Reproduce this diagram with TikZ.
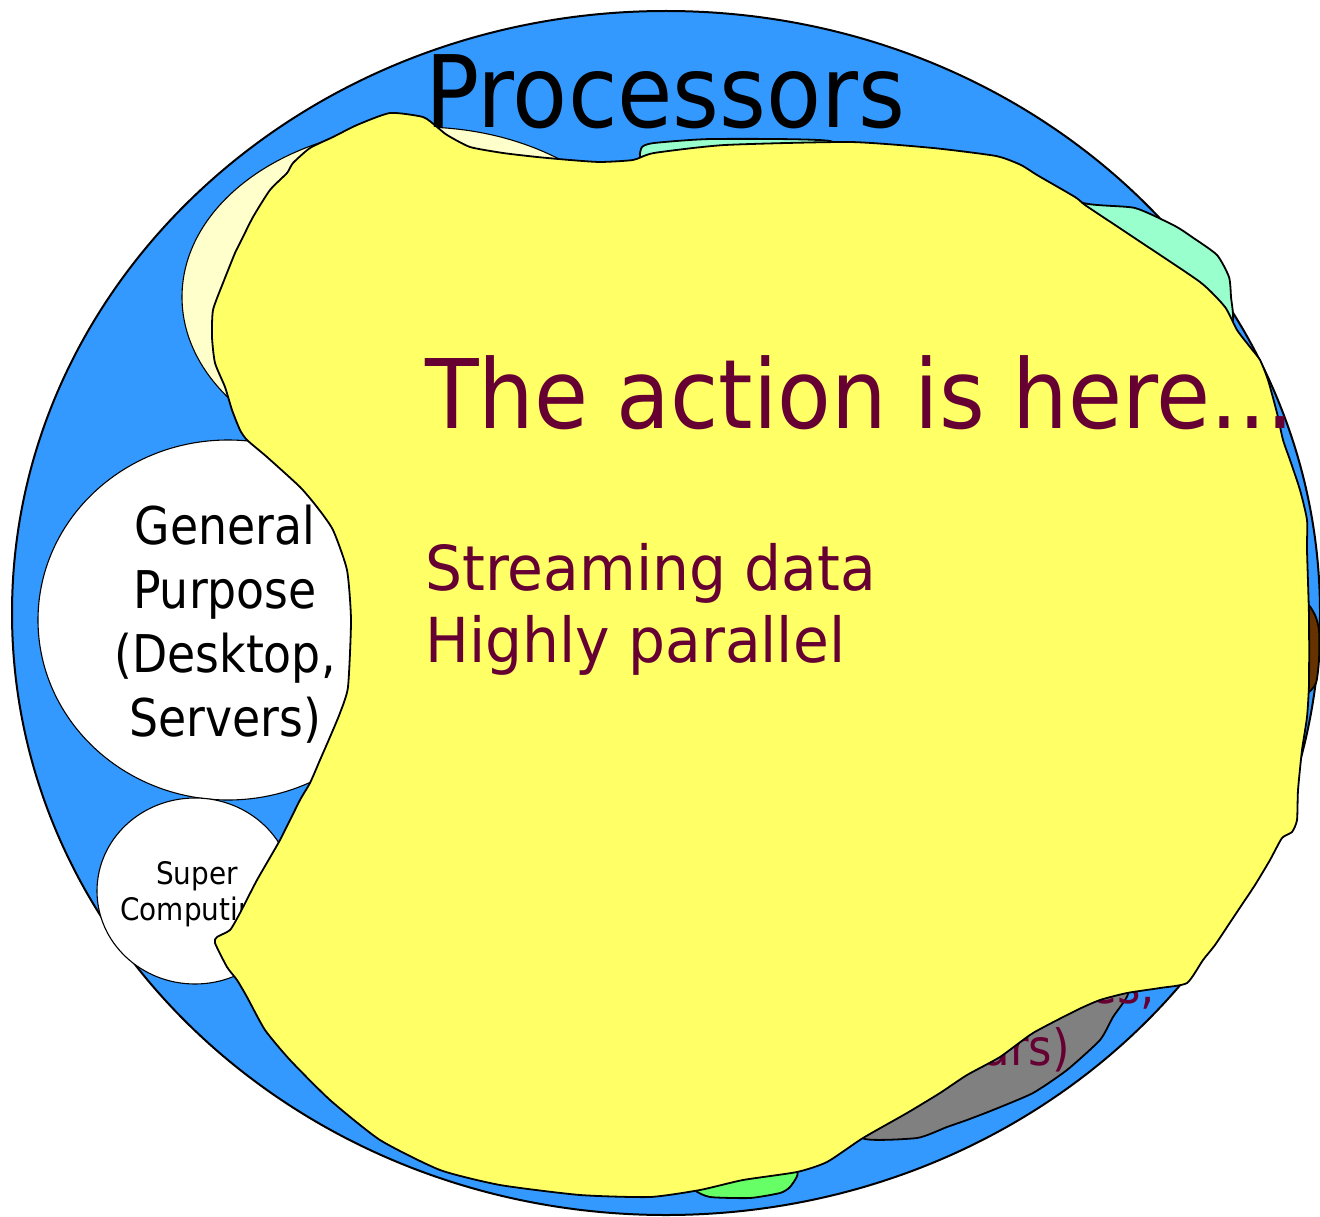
\documentclass[tikz,border=0pt]{standalone}
\usepackage{fontspec}
\setmainfont{DejaVu Sans}
\usepackage{tikz}
\usetikzlibrary{positioning}
\definecolor{skyblue}{RGB}{51, 153, 255}
\definecolor{paleyellow}{RGB}{255, 255, 204}
\definecolor{mintgreen}{RGB}{153, 255, 204}
\definecolor{blobyellow}{RGB}{255, 255, 102}
\definecolor{barkbrown}{RGB}{102, 51, 0}
\definecolor{stonegray}{RGB}{128, 128, 128}
\definecolor{leafgreen}{RGB}{102, 255, 102}
\definecolor{winered}{RGB}{102, 0, 51}
\tikzset{
  outline/.style={draw=black, line width=1.8pt, line join=round},
  thinline/.style={draw=black, line width=1.1pt},
  bigtext/.style={inner sep=0pt, anchor=base west, text=#1},
  bigtext/.default=black,
}
% one filled blob, outlined, given as a closed point list
\newcommand{\region}[2]{%
  \filldraw[fill=#1, outline] plot[smooth cycle, tension=0.35] coordinates {#2};
}

\begin{document}
\begin{tikzpicture}[x=1pt, y=-1pt]
    \useasboundingbox (0,0) rectangle (1320,1217);
    % Outer circle
    \filldraw[fill=skyblue, outline, line width=2pt] (666,613) ellipse [x radius=654, y radius=602];
    % Pale region, top left
    \filldraw[fill=paleyellow, thinline] (420,297) ellipse [x radius=238, y radius=170];
    % Regions peeking out round the big blob
    \region{mintgreen}{(640,157) (642,147) (654,143) (712,139) (830,141) (860,165)
      (1000,175) (1083,203) (1135,208) (1175,226) (1192,237) (1217,255) (1229,277)
      (1231,297) (1232,323) (1200,320) (1100,250) (900,200) (700,190) (648,166)}
    \region{barkbrown}{(1306,605) (1315,615) (1319,630) (1319,660) (1316,683) (1306,692) (1290,650)}
    \region{stonegray}{(863,1138) (917,1138) (947,1127) (967,1120) (993,1110) (1033,1093)
      (1067,1070) (1100,1040) (1113,1017) (1128,993) (1100,985) (1000,1040) (900,1100)}
    \region{leafgreen}{(695,1190) (710,1197) (750,1198) (780,1193) (790,1187) (797,1172)
      (760,1162) (700,1178)}
    % Text tucked under the blob
    \node[bigtext=winered, font=\fontsize{50}{50}\selectfont, xscale=0.9, anchor=base east]
      (embA) at (1155,1003) {es,};
    \node[bigtext=winered, font=\fontsize{50}{50}\selectfont, xscale=0.9, anchor=base east]
      (embB) at (1070,1065) {ars)};
    % General purpose
    \filldraw[fill=white, thinline] (228,620) ellipse [x radius=190, y radius=180];
    \node[align=center, inner sep=0pt, font=\fontsize{52}{64}\selectfont, xscale=0.88]
      (gp) at (225,624) {General\\Purpose\\(Desktop,\\Servers)};
    % Super computing
    \filldraw[fill=white, thinline] (195,891) ellipse [x radius=98, y radius=93];
    \node[align=center, inner sep=0pt, font=\fontsize{31}{36}\selectfont, xscale=0.9]
      (sc) at (197,894) {Super\\Computing};
    % The big blob
    \region{blobyellow}{(333,137) (357,125) (390,113) (423,117) (437,127) (447,135) (470,147)
      (503,153) (537,157) (570,160) (600,162) (633,160) (654,153) (725,145) (850,142)
      (933,148) (996,156) (1021,165) (1037,175) (1075,197) (1085,205) (1112,223)
      (1133,237) (1200,282) (1225,307) (1237,330) (1250,347) (1260,360) (1268,380)
      (1277,413) (1283,440) (1290,460) (1300,490) (1307,520) (1307,550) (1309,617)
      (1309,683) (1307,717) (1302,750) (1298,790) (1297,820) (1292,832) (1282,838)
      (1270,860) (1255,885) (1235,915) (1215,945) (1203,960) (1187,983) (1160,988)
      (1127,993) (1100,1000) (1077,1010) (1033,1033) (1000,1057) (967,1075) (940,1093)
      (907,1113) (863,1138) (827,1162) (797,1172) (743,1180) (700,1190) (650,1197)
      (580,1195) (500,1185) (440,1170) (380,1140) (330,1100) (290,1060) (265,1030)
      (247,997) (237,980) (227,967) (215,943) (217,937) (230,930) (240,913) (257,880)
      (280,840) (300,800) (310,783) (320,760) (330,737) (340,713) (348,687) (351,620)
      (347,570) (333,530) (317,507) (300,487) (267,457) (247,440) (240,430) (232,410)
      (225,387) (215,363) (212,337) (213,310) (223,283) (235,253) (240,243) (253,217)
      (270,190) (287,173) (293,163) (310,148)}
    % Headings
    \node[bigtext, font=\fontsize{100}{100}\selectfont, xscale=0.9] (title) at (425,128) {Processors};
    \node[bigtext=winered, font=\fontsize{96}{96}\selectfont, xscale=0.915] (action) at (425,428) {The action is here...};
    \node[bigtext=winered, font=\fontsize{62}{62}\selectfont, xscale=0.94] (stream) at (425,590) {Streaming data};
    \node[bigtext=winered, font=\fontsize{62}{62}\selectfont, xscale=0.94, below=12pt of stream.south west, anchor=north west] (par) {Highly parallel};
  \end{tikzpicture}
\end{document}
